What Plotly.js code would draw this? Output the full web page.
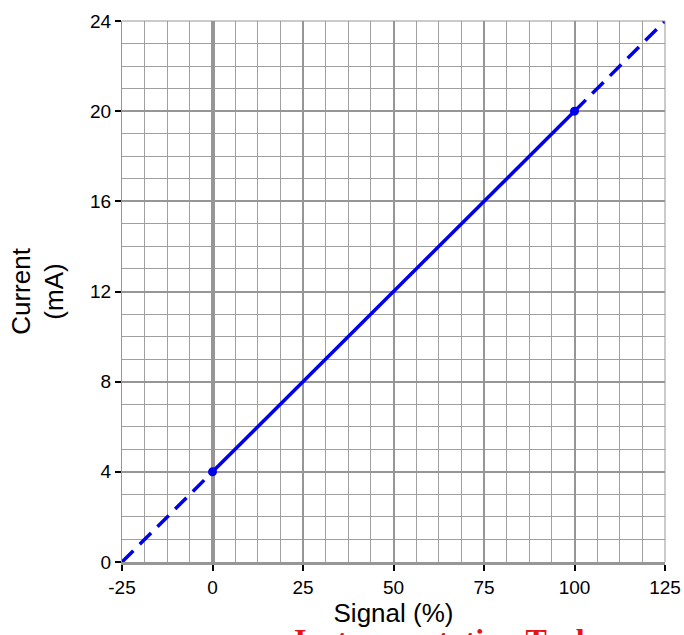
<!DOCTYPE html>
<html>
<head>
<meta charset="utf-8">
<script src="https://cdn.plot.ly/plotly-3.0.1.min.js"></script>
<style>html,body{margin:0;padding:0;background:#fff;}#chart{width:684px;height:635px;}</style>
</head>
<body>
<div id="chart"></div>
<script>
const solidX = [0, 100];
const solidY = [4, 20];
const dashLowX = [-25, 0];
const dashLowY = [0, 4];
const dashHighX = [100, 125];
const dashHighY = [20, 24];
const xTicks = [-25, 0, 25, 50, 75, 100, 125];
const yTicks = [0, 4, 8, 12, 16, 20, 24];

const blue = 'rgb(0,0,235)';
const traces = [
  {x: dashLowX, y: dashLowY, mode: 'lines', line: {color: blue, width: 3.5, dash: '16px,9px'}, hoverinfo: 'skip'},
  {x: dashHighX, y: dashHighY, mode: 'lines', line: {color: blue, width: 3.5, dash: '16px,9px'}, hoverinfo: 'skip'},
  {x: solidX, y: solidY, mode: 'lines+markers', line: {color: blue, width: 3.5}, marker: {color: blue, size: 9}}
];

const layout = {
  width: 684, height: 635,
  margin: {l: 122, r: 19, t: 21, b: 73},
  showlegend: false,
  paper_bgcolor: '#fff', plot_bgcolor: '#fff',
  font: {family: 'Liberation Sans, Arial, sans-serif', color: '#000'},
  xaxis: {
    range: [-25, 125], tickvals: xTicks, ticktext: xTicks.map(String),
    showgrid: true, gridcolor: 'rgb(150,150,150)', gridwidth: 2,
    minor: {dtick: 6.25, tick0: 0, showgrid: true, gridcolor: 'rgb(160,160,160)', gridwidth: 1},
    zeroline: true, zerolinecolor: 'rgb(150,150,150)', zerolinewidth: 4,
    showline: true, linecolor: 'rgb(150,150,150)', linewidth: 3, mirror: false,
    ticks: 'outside', ticklen: 6, tickwidth: 2, tickcolor: '#000',
    tickfont: {size: 19},
    title: {text: 'Signal (%)', font: {size: 26}, standoff: 2}
  },
  yaxis: {
    range: [0, 24], tickvals: yTicks, ticktext: yTicks.map(String),
    showgrid: true, gridcolor: 'rgb(150,150,150)', gridwidth: 2,
    minor: {dtick: 1, tick0: 0, showgrid: true, gridcolor: 'rgb(160,160,160)', gridwidth: 1},
    zeroline: false,
    showline: true, linecolor: 'rgb(150,150,150)', linewidth: 1,
    ticks: 'outside', ticklen: 6, tickwidth: 2, tickcolor: '#000',
    tickfont: {size: 19},
    title: {text: 'Current<br>(mA)', font: {size: 26}, standoff: 18}
  },
  shapes: [
    {type: 'line', xref: 'paper', yref: 'paper', x0: 0, x1: 1, y0: 1, y1: 1, line: {color: 'rgb(150,150,150)', width: 1}},
    {type: 'line', xref: 'paper', yref: 'paper', x0: 1, x1: 1, y0: 0, y1: 1, line: {color: 'rgb(150,150,150)', width: 1}}
  ],
  annotations: [
    {text: 'Instrumentation Tools', xref: 'paper', yref: 'paper', x: 0.313, y: -0.107, xanchor: 'left', yanchor: 'top',
     showarrow: false, font: {family: 'Liberation Serif, Times New Roman, serif', size: 32, color: 'rgb(230,20,20)', weight: 'bold'}}
  ]
};

Plotly.newPlot('chart', traces, layout, {displayModeBar: false, staticPlot: true});
</script>
</body>
</html>
